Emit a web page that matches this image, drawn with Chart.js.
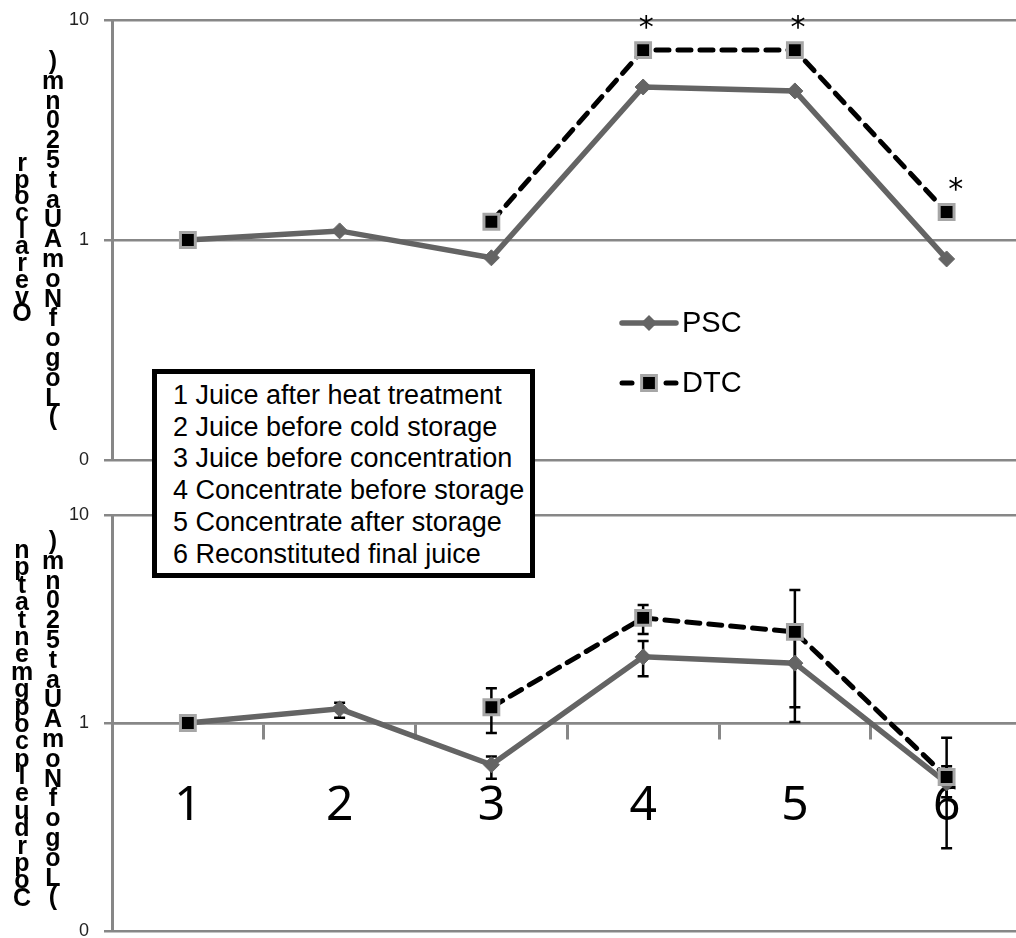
<!DOCTYPE html>
<html>
<head>
<meta charset="utf-8">
<script src="https://cdn.jsdelivr.net/npm/chart.js@4.4.0/dist/chart.umd.min.js"></script>
<style>
html,body{margin:0;padding:0;width:1016px;height:938px;overflow:hidden;background:#fff;}
#wrap{position:relative;width:1016px;height:938px;overflow:hidden;}
canvas{position:absolute;left:0;}
#c1{top:-6px;}
#c2{top:480px;}
.vt{position:absolute;width:30px;font-family:'Liberation Sans',Arial,sans-serif;font-weight:bold;font-size:25px;color:#000;text-align:center;}
.vt span{display:block;overflow:visible;}
#box{position:absolute;left:152px;top:369px;width:357px;height:193px;border:5px solid #000;background:#fff;
 font-family:'Liberation Sans',Arial,sans-serif;font-size:27px;line-height:31.7px;color:#000;padding:6px 0 0 16px;white-space:nowrap;}
</style>
</head>
<body>
<div id="wrap">
<canvas id="c1" width="1036" height="500"></canvas>
<canvas id="c2" width="1036" height="480"></canvas>
<div id="t1a" class="vt"></div>
<div id="t1b" class="vt"></div>
<div id="t2a" class="vt"></div>
<div id="t2b" class="vt"></div>
<div id="box"></div>
</div>
<script>
// ---------- data ----------
const categories = ['1', '2', '3', '4', '5', '6'];
const seriesNames = ['PSC', 'DTC'];

// top panel (overall)
const pscTop = [1.0, 1.10, 0.83, 4.96, 4.76, 0.82];
const dtcTop = [1.0, null, 1.21, 7.3, 7.3, 1.34];
const topSignificant = [false, false, false, true, true, true];

// bottom panel (per compartment)
const pscBottom = [1.0, 1.17, 0.63, 2.08, 1.94, 0.515];
const dtcBottom = [1.0, null, 1.19, 3.2, 2.74, 0.55];
const pscBottomHigh = [1.0, 1.25, 0.69, 2.48, 2.8, 0.62];
const pscBottomLow = [1.0, 1.06, 0.54, 1.68, 1.19, 0.44];
const dtcBottomHigh = [1.0, null, 1.47, 3.69, 4.36, 0.85];
const dtcBottomLow = [1.0, null, 0.895, 2.68, 1.01, 0.25];

const yTickValues = [0.1, 1, 10];
const yTickLabels = ['0', '1', '10'];

const boxLines = [
  '1 Juice after heat treatment',
  '2 Juice before cold storage',
  '3 Juice before concentration',
  '4 Concentrate before storage',
  '5 Concentrate after storage',
  '6 Reconstituted final juice'
];
const titleTopOuter = 'rpoclarevO';
const titleInner = ')mn025taUAmoNfogoL(';
const titleBottomOuter = 'nptatnemgpocpleudrpoC';

// ---------- text elements ----------
function fillVertical(id, text, cx, top, pitch) {
  const el = document.getElementById(id);
  el.style.left = (cx - 15) + 'px';
  el.style.top = top + 'px';
  for (const ch of text) {
    const s = document.createElement('span');
    s.textContent = ch;
    s.style.height = pitch + 'px';
    s.style.lineHeight = pitch + 'px';
    el.appendChild(s);
  }
}
fillVertical('t1a', titleTopOuter, 22, 154, 16.7);
fillVertical('t1b', titleInner, 53, 51, 19.8);
fillVertical('t2a', titleBottomOuter, 22, 541, 17.4);
fillVertical('t2b', titleInner, 53, 531, 19.8);
document.getElementById('box').innerHTML = boxLines.map(t => '<div>' + t + '</div>').join('');

// ---------- styles ----------
const GRID = '#878787';
const PSC_COLOR = '#646464';
const DTC_BORDER = '#a6a6a6';
const DTC_DASH = [13, 9];

function pscDataset(data) {
  return {
    label: seriesNames[0], data,
    borderColor: PSC_COLOR, backgroundColor: PSC_COLOR, borderWidth: 5.5,
    pointStyle: 'rectRot', pointRadius: 8, pointHoverRadius: 8,
    pointBackgroundColor: PSC_COLOR, pointBorderColor: PSC_COLOR, pointBorderWidth: 1,
    tension: 0, spanGaps: false, order: 2
  };
}
function dtcDataset(data) {
  return {
    label: seriesNames[1], data,
    borderColor: '#000', backgroundColor: '#000', borderWidth: 5,
    borderDash: DTC_DASH, borderCapStyle: 'round',
    pointStyle: 'rect', pointRadius: 10.5, pointHoverRadius: 10.5,
    pointBackgroundColor: '#000', pointBorderColor: DTC_BORDER, pointBorderWidth: 3,
    tension: 0, spanGaps: false, order: 1
  };
}

function yScale() {
  return {
    type: 'logarithmic', min: 0.1, max: 10,
    afterBuildTicks: (s) => { s.ticks = yTickValues.map(v => ({ value: v })); },
    afterFit: (s) => { s.width = 112; },
    ticks: {
      callback: (v) => { const i = yTickValues.indexOf(v); return i >= 0 ? yTickLabels[i] : ''; },
      font: { family: 'Liberation Sans', size: 18 }, color: '#222', padding: 15
    },
    grid: { color: GRID, lineWidth: 2.5, tickLength: 8, drawTicks: true },
    border: { display: true, color: GRID, width: 3 }
  };
}

// legend + asterisks for top panel
const topDecor = {
  id: 'topDecor',
  afterDatasetsDraw(chart) {
    const ctx = chart.ctx;
    const meta = chart.getDatasetMeta(1);
    ctx.save();
    ctx.fillStyle = '#000';
    ctx.font = '30px "DejaVu Sans"';
    ctx.textAlign = 'center';
    ctx.textBaseline = 'alphabetic';
    const m = ctx.measureText('*');
    const base = (m.actualBoundingBoxAscent - m.actualBoundingBoxDescent) / 2;
    topSignificant.forEach((sig, i) => {
      if (!sig) return;
      const p = meta.data[i];
      const dx = (i === categories.length - 1) ? 9 : 3;
      ctx.fillText('*', p.x + dx, p.y - 28 + base);
    });
    ctx.restore();
  },
  afterDraw(chart) {
    const ctx = chart.ctx;
    const off = chart.canvas.offsetTop;
    ctx.save();
    ctx.translate(0, -off);
    // PSC
    let y = 323;
    ctx.strokeStyle = PSC_COLOR; ctx.lineWidth = 5.5; ctx.lineCap = 'round';
    ctx.beginPath(); ctx.moveTo(622, y); ctx.lineTo(676, y); ctx.stroke();
    ctx.fillStyle = PSC_COLOR;
    ctx.beginPath(); ctx.moveTo(649 - 8, y); ctx.lineTo(649, y - 8); ctx.lineTo(649 + 8, y); ctx.lineTo(649, y + 8); ctx.closePath(); ctx.fill();
    // DTC
    y = 383;
    ctx.strokeStyle = '#000'; ctx.lineWidth = 5; ctx.lineCap = 'round';
    ctx.beginPath(); ctx.moveTo(622, y); ctx.lineTo(632, y); ctx.stroke();
    ctx.beginPath(); ctx.moveTo(666, y); ctx.lineTo(676, y); ctx.stroke();
    const s = 7.4;
    ctx.fillStyle = '#000'; ctx.strokeStyle = DTC_BORDER; ctx.lineWidth = 3;
    ctx.beginPath(); ctx.rect(649 - s, y - s, 2 * s, 2 * s); ctx.fill(); ctx.stroke();
    // texts
    ctx.fillStyle = '#000';
    ctx.font = '29px "Liberation Sans"';
    ctx.textAlign = 'left'; ctx.textBaseline = 'middle';
    ctx.fillText(seriesNames[0], 682, 324);
    ctx.fillText(seriesNames[1], 682, 384);
    ctx.restore();
  }
};

// error bars for bottom panel
const errorBars = {
  id: 'errorBars',
  beforeDatasetsDraw(chart) {
    const ctx = chart.ctx;
    const ys = chart.scales.y;
    const sets = [[0, pscBottomHigh, pscBottomLow], [1, dtcBottomHigh, dtcBottomLow]];
    ctx.save();
    ctx.strokeStyle = '#000';
    ctx.lineWidth = 2.5;
    sets.forEach(([di, hi, lo]) => {
      const meta = chart.getDatasetMeta(di);
      hi.forEach((h, i) => {
        const l = lo[i];
        if (h == null || l == null || h === l) return;
        const x = meta.data[i].x;
        const y1 = ys.getPixelForValue(h), y2 = ys.getPixelForValue(l);
        ctx.beginPath();
        ctx.moveTo(x, y1); ctx.lineTo(x, y2);
        ctx.moveTo(x - 5.5, y1); ctx.lineTo(x + 5.5, y1);
        ctx.moveTo(x - 5.5, y2); ctx.lineTo(x + 5.5, y2);
        ctx.stroke();
      });
    });
    ctx.restore();
  }
};

const common = {
  responsive: false, animation: false, devicePixelRatio: 1,
  plugins: { legend: { display: false }, tooltip: { enabled: false } },
  events: []
};

new Chart(document.getElementById('c1'), {
  type: 'line',
  data: { labels: categories, datasets: [pscDataset(pscTop), dtcDataset(dtcTop)] },
  options: Object.assign({}, common, {
    layout: { padding: { top: 26, bottom: 34, left: 0, right: 0 } },
    scales: {
      x: { type: 'category', offset: true, display: false, grid: { offset: true } },
      y: yScale()
    }
  }),
  plugins: [topDecor]
});

new Chart(document.getElementById('c2'), {
  type: 'line',
  data: { labels: categories, datasets: [pscDataset(pscBottom), dtcDataset(dtcBottom)] },
  options: Object.assign({}, common, {
    layout: { padding: { top: 35, bottom: 29, left: 0, right: 0 } },
    scales: {
      x: {
        type: 'category', offset: true, position: { y: 1 },
        grid: { offset: true, drawOnChartArea: false, drawTicks: true, tickLength: 15, color: GRID, lineWidth: 3 },
        border: { display: true, color: GRID, width: 2.5 },
        ticks: { font: { family: 'Noto Sans', size: 48 }, color: '#000', padding: 40, maxRotation: 0, autoSkip: false }
      },
      y: yScale()
    }
  }),
  plugins: [errorBars]
});
</script>
</body>
</html>
